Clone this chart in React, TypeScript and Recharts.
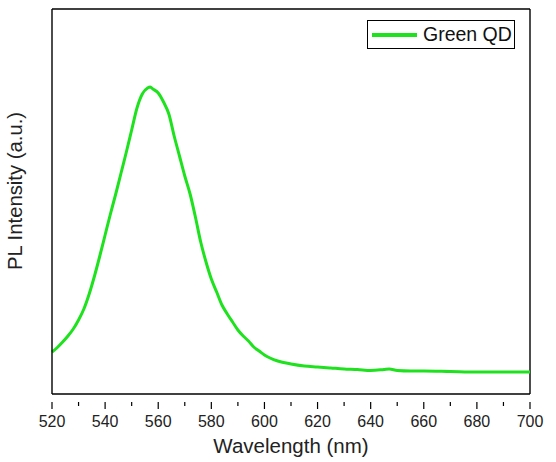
import { LineChart, Line, XAxis, YAxis, ReferenceLine } from 'recharts'

const wavelength = [
  520, 522, 524, 526, 528, 530, 532, 534, 536, 538, 540, 542, 544, 546, 548, 550, 552, 554, 556, 557, 558,
  560, 562, 564, 566, 568, 570, 572, 574, 576, 578, 580, 582, 584, 586, 588, 590, 592, 594, 596, 598, 600,
  605, 610, 615, 620, 625, 630, 635, 640, 645, 647, 650, 655, 660, 670, 680, 690, 700,
]
const intensity = [
  42, 46.5, 52, 58, 65, 74, 85, 100, 118, 138, 159, 180, 200, 221, 242, 264, 286, 300, 306, 307, 305,
  301, 292, 280, 258, 238, 218, 200, 177, 152, 132, 115, 102, 89, 80, 72, 64, 58, 53, 47, 43, 39,
  33, 30, 28, 27, 26, 25, 24.5, 23.5, 24.5, 25, 23.5, 23, 23, 22.5, 22, 22, 22,
]
const xTicks = [520, 530, 540, 550, 560, 570, 580, 590, 600, 610, 620, 630, 640, 650, 660, 670, 680, 690, 700]

const data = wavelength.map((w, i) => ({ w, v: intensity[i] }))

const GREEN = '#1fe21f'
const FONT = '"Liberation Sans", Arial, sans-serif'

function Tick({ x, y, payload }: any) {
  const major = payload.value % 20 === 0
  return (
    <g>
      <line x1={x} x2={x} y1={y} y2={y + (major ? 7 : 4)} stroke="#000" strokeWidth={1.2} />
      {major && (
        <text x={x} y={y + 25} textAnchor="middle" fontSize={16} fontFamily={FONT} fill="#222">
          {payload.value}
        </text>
      )}
    </g>
  )
}

export default function App() {
  return (
    <div style={{ position: 'absolute', left: 0, top: 0, width: 556, height: 462, background: '#fff' }}>
      <LineChart width={556} height={462} data={data} margin={{ top: 9, right: 26, bottom: 6, left: 0 }}>
        <XAxis
          dataKey="w"
          type="number"
          domain={[520, 700]}
          ticks={xTicks}
          interval={0}
          tickLine={false}
          tick={<Tick />}
          axisLine={{ stroke: '#000', strokeWidth: 1.4 }}
          height={62}
          label={{ value: 'Wavelength (nm)', position: 'insideBottom', offset: 3, fontSize: 20.5, fontFamily: FONT, fill: '#222' }}
        />
        <YAxis
          domain={[0, 385]}
          width={52}
          tick={false}
          tickLine={false}
          axisLine={{ stroke: '#000', strokeWidth: 1.4 }}
          label={{
            content: () => (
              <text
                x={22}
                y={191}
                transform="rotate(-90 22 191)"
                textAnchor="middle"
                fontSize={20.3}
                fontFamily={FONT}
                fill="#222"
              >
                PL Intensity (a.u.)
              </text>
            ),
          }}
        />
        <ReferenceLine y={385} stroke="#000" strokeWidth={1.4} />
        <ReferenceLine x={700} stroke="#000" strokeWidth={1.4} />
        <Line type="monotone" dataKey="v" stroke={GREEN} strokeWidth={3} dot={false} isAnimationActive={false} />
      </LineChart>
      <div
        style={{
          position: 'absolute',
          left: 367,
          top: 20,
          width: 146,
          height: 27,
          border: '1px solid #000',
          background: '#fff',
          display: 'flex',
          alignItems: 'center',
          fontFamily: FONT,
          fontSize: 19.5,
          color: '#111',
        }}
      >
        <div style={{ width: 45, height: 4, background: GREEN, marginLeft: 4, marginRight: 6 }} />
        <span>Green QD</span>
      </div>
    </div>
  )
}
